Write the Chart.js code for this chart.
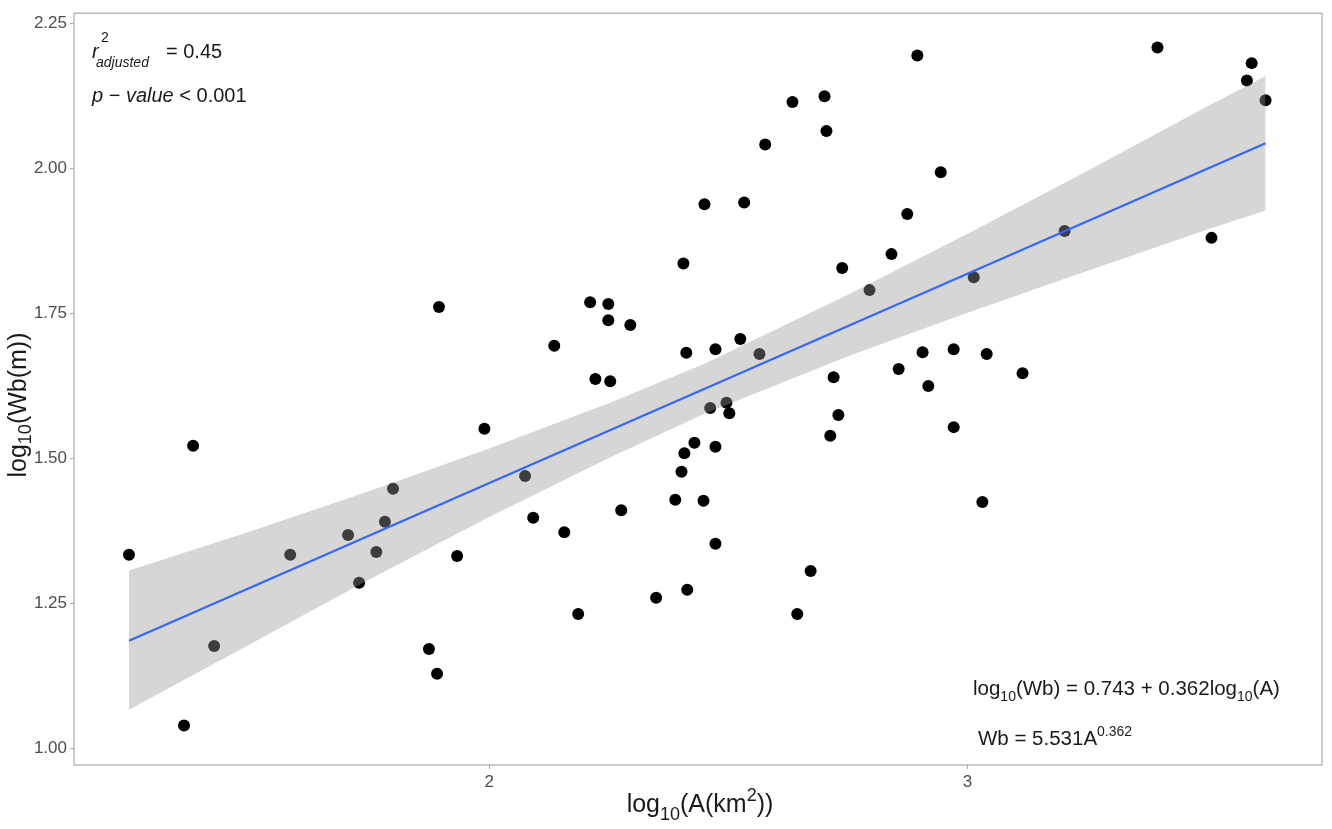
<!DOCTYPE html>
<html>
<head>
<meta charset="utf-8">
<script src="https://cdn.jsdelivr.net/npm/chart.js@4/dist/chart.umd.min.js"></script>
<style>
  html, body { margin: 0; padding: 0; background: #fff; }
  #wrap { width: 1332px; height: 829px; }
</style>
</head>
<body>
<div id="wrap"><canvas id="fitChart"></canvas></div>
<script>
// observed points: log10(A) and log10(Wb)
const logA = [1.247, 1.381, 1.362, 1.425, 1.584, 1.705, 1.728, 1.764, 1.782, 1.799,
    1.874, 1.891, 1.895, 1.933, 1.990, 2.075, 2.092, 2.136, 2.157, 2.186,
    2.211, 2.222, 2.249, 2.249, 2.253, 2.276, 2.295, 2.349, 2.389, 2.402,
    2.408, 2.406, 2.412, 2.414, 2.429, 2.448, 2.450, 2.462, 2.473, 2.473,
    2.473, 2.496, 2.502, 2.525, 2.533, 2.565, 2.577, 2.634, 2.644, 2.672,
    2.701, 2.705, 2.713, 2.720, 2.730, 2.738, 2.795, 2.841, 2.856, 2.874,
    2.895, 2.906, 2.918, 2.944, 2.971, 2.971, 3.013, 3.031, 3.040, 3.115,
    3.203, 3.397, 3.510, 3.584, 3.594, 3.623];
const logWb = [1.334, 1.522, 1.040, 1.177, 1.334, 1.368, 1.286, 1.339, 1.391, 1.448,
    1.172, 1.129, 1.761, 1.332, 1.551, 1.470, 1.398, 1.694, 1.373, 1.232,
    1.769, 1.637, 1.766, 1.738, 1.633, 1.411, 1.730, 1.260, 1.429, 1.477,
    1.509, 1.836, 1.682, 1.274, 1.527, 1.427, 1.938, 1.587, 1.688, 1.520,
    1.353, 1.596, 1.578, 1.706, 1.941, 1.680, 2.041, 2.114, 1.232, 1.306,
    2.124, 2.064, 1.539, 1.640, 1.575, 1.828, 1.790, 1.852, 1.654, 1.921,
    2.194, 1.683, 1.625, 1.993, 1.688, 1.554, 1.812, 1.425, 1.680, 1.647,
    1.892, 2.208, 1.880, 2.151, 2.181, 2.117];

// fitted line and confidence band
const fitX = [1.247, 3.623];
const fitY = [1.186, 2.043];
const bandX = [1.247, 1.5, 1.75, 2.0, 2.25, 2.45, 2.75, 3.0, 3.25, 3.5, 3.623];
const bandUpper = [1.307, 1.374, 1.444, 1.517, 1.595, 1.663, 1.782, 1.887, 1.995, 2.106, 2.159];
const bandLower = [1.067, 1.180, 1.292, 1.399, 1.501, 1.577, 1.676, 1.751, 1.823, 1.894, 1.927];

const xTicks = [2, 3];
const yTicks = [1.00, 1.25, 1.50, 1.75, 2.00, 2.25];

const FONT = '"Liberation Sans", Arial, sans-serif';

function toXY(xs, ys) {
    return xs.map((x, i) => ({ x: x, y: ys[i] }));
}

// draws a run of text pieces; sub / sup pieces are smaller and shifted
function drawRich(ctx, x, y, parts, size, subShift) {
    let cx = x;
    parts.forEach(p => {
        const s = p.size || ((p.sub || p.sup) ? Math.round(size * 0.7) : size);
        ctx.font = (p.it ? 'italic ' : '') + s + 'px ' + FONT;
        let dy = 0;
        if (p.sub) dy = size * (subShift || 0.3);
        if (p.sup) dy = -size * 0.45;
        ctx.fillText(p.t, cx, y + dy);
        cx += ctx.measureText(p.t).width;
    });
    return cx - x;
}

function richWidth(ctx, parts, size) {
    let w = 0;
    parts.forEach(p => {
        const s = p.size || ((p.sub || p.sup) ? Math.round(size * 0.7) : size);
        ctx.font = (p.it ? 'italic ' : '') + s + 'px ' + FONT;
        w += ctx.measureText(p.t).width;
    });
    return w;
}

const textPlugin = {
    id: 'textPlugin',
    afterDraw(chart) {
        const ctx = chart.ctx;
        const a = chart.chartArea;
        ctx.save();
        // panel border
        ctx.strokeStyle = '#ababab';
        ctx.lineWidth = 1.2;
        ctx.strokeRect(a.left, a.top, a.right - a.left, a.bottom - a.top);

        ctx.fillStyle = '#1a1a1a';
        ctx.textBaseline = 'alphabetic';
        ctx.textAlign = 'left';

        // x axis title
        const xt = [{ t: 'log' }, { t: '10', sub: true }, { t: '(A(km' }, { t: '2', sup: true }, { t: '))' }];
        const xw = richWidth(ctx, xt, 25);
        drawRich(ctx, 700 - xw / 2, 812, xt, 25);

        // y axis title
        const yt = [{ t: 'log' }, { t: '10', sub: true }, { t: '(Wb(m))' }];
        const yw = richWidth(ctx, yt, 25);
        ctx.save();
        ctx.translate(26, 405);
        ctx.rotate(-Math.PI / 2);
        drawRich(ctx, -yw / 2, 0, yt, 25, 0.2);
        ctx.restore();

        // stats in the top left
        drawRich(ctx, 92, 58, [{ t: 'r', it: true }], 20);
        drawRich(ctx, 101, 42, [{ t: '2', size: 14 }], 20);
        drawRich(ctx, 96, 67, [{ t: 'adjusted', it: true, size: 14 }], 20);
        drawRich(ctx, 166, 58, [{ t: '= 0.45' }], 20);
        drawRich(ctx, 92, 102, [{ t: 'p', it: true }, { t: ' \u2212 ' }, { t: 'value', it: true }, { t: ' < 0.001' }], 20);

        // equations in the bottom right
        drawRich(ctx, 973, 695, [{ t: 'log' }, { t: '10', sub: true }, { t: '(Wb) = 0.743 + 0.362log' },
            { t: '10', sub: true }, { t: '(A)' }], 20.5);
        drawRich(ctx, 978, 745, [{ t: 'Wb = 5.531A' }, { t: '0.362', sup: true }], 20.5);
        ctx.restore();
    }
};

const ctx = document.querySelector('#fitChart').getContext('2d');

new Chart(ctx, {
    type: 'scatter',
    data: {
        datasets: [{
            label: 'points',
            data: toXY(logA, logWb),
            backgroundColor: '#000000',
            borderColor: '#000000',
            pointRadius: 6,
            borderWidth: 0,
            order: 4
        }, {
            label: 'lower',
            data: toXY(bandX, bandLower),
            showLine: true,
            pointRadius: 0,
            borderWidth: 0,
            borderColor: 'rgba(0,0,0,0)',
            fill: false,
            order: 3
        }, {
            label: 'upper',
            data: toXY(bandX, bandUpper),
            showLine: true,
            pointRadius: 0,
            borderWidth: 0,
            borderColor: 'rgba(0,0,0,0)',
            backgroundColor: 'rgba(153,153,153,0.4)',
            fill: '-1',
            order: 2
        }, {
            label: 'fit',
            data: toXY(fitX, fitY),
            showLine: true,
            pointRadius: 0,
            borderColor: '#3366FF',
            borderWidth: 2.2,
            fill: false,
            order: 1
        }]
    },
    options: {
        responsive: true,
        maintainAspectRatio: false,
        animation: false,
        layout: { padding: { top: 12, right: 10, left: 0, bottom: 0 } },
        plugins: {
            legend: { display: false },
            tooltip: { enabled: false }
        },
        scales: {
            x: {
                type: 'linear',
                min: 1.132,
                max: 3.741,
                afterBuildTicks: s => { s.ticks = xTicks.map(v => ({ value: v })); },
                afterFit: s => { s.height = 64; },
                ticks: {
                    color: '#4d4d4d',
                    font: { family: FONT, size: 17 },
                    padding: 3,
                    callback: v => String(v)
                },
                grid: { drawOnChartArea: false, color: '#ababab', tickLength: 4 },
                border: { display: false }
            },
            y: {
                type: 'linear',
                min: 0.972,
                max: 2.267,
                afterBuildTicks: s => { s.ticks = yTicks.map(v => ({ value: v })); },
                afterFit: s => { s.width = 74; },
                ticks: {
                    color: '#4d4d4d',
                    font: { family: FONT, size: 17 },
                    padding: 3,
                    callback: v => v.toFixed(2)
                },
                grid: { drawOnChartArea: false, color: '#ababab', tickLength: 4 },
                border: { display: false }
            }
        }
    },
    plugins: [textPlugin]
});
</script>
</body>
</html>
